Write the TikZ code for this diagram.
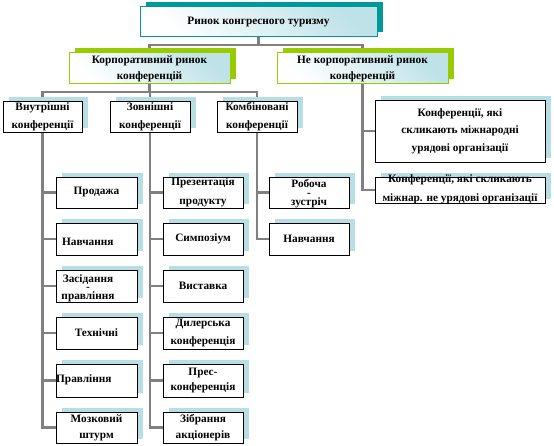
\documentclass[tikz,border=0pt]{standalone}
\usepackage{fontspec}
\setmainfont{Liberation Serif}
\usetikzlibrary{shadows,backgrounds}
\definecolor{tealc}{RGB}{0,153,153}
\definecolor{grnc}{RGB}{153,204,0}
\definecolor{sbluec}{RGB}{183,222,228}
\definecolor{gfillc}{RGB}{190,226,232}
\definecolor{connc}{RGB}{128,128,128}
\begin{document}
\begin{tikzpicture}[x=1pt,y=-1pt,
  txt/.style={inner sep=0pt, align=center, font=\bfseries\fontsize{11.3}{18}\selectfont},
  topbox/.style={txt, draw=tealc, line width=1pt, top color=gfillc, bottom color=white, shading angle=-45,
     general shadow={shadow xshift=5.5pt, shadow yshift=5pt, fill=tealc}},
  midbox/.style={txt, font=\bfseries\fontsize{11.3}{16}\selectfont, draw=grnc, line width=1pt, top color=gfillc, bottom color=white, shading angle=-45,
     general shadow={shadow xshift=5.5pt, shadow yshift=5pt, fill=grnc}},
  leafbox/.style={txt, draw=black, line width=0.8pt, fill=white,
     general shadow={shadow xshift=5.5pt, shadow yshift=4pt, fill=sbluec}},
  dashtxt/.style={txt, font=\bfseries\fontsize{11.3}{8.7}\selectfont},
  conn/.style={draw=connc, line width=2.8pt}
]
\useasboundingbox (0,0) rectangle (554,446);

% level 1
\node[topbox, minimum width=237pt, minimum height=30pt] (top) at (258.5,22) {Ринок конгресного туризму};
% level 2
\node[midbox, minimum width=161pt, minimum height=31pt] (l2a) at (149.5,68.5) {Корпоративний ринок\\конференцій};
\node[midbox, minimum width=171pt, minimum height=31pt] (l2b) at (362.5,68.5) {Не корпоративний ринок\\конференцій};
% level 3
\node[leafbox, minimum width=79pt, minimum height=31pt] (l3a) at (42.5,116.5) {Внутрішні\\конференції};
\node[leafbox, minimum width=80pt, minimum height=31pt] (l3b) at (150,116.5) {Зовнішні\\конференції};
\node[leafbox, minimum width=80pt, minimum height=31pt] (l3c) at (257,116.5) {Комбіновані\\конференції};
% right side
\node[leafbox, font=\bfseries\fontsize{11.3}{17.5}\selectfont, minimum width=170pt, minimum height=62pt] (ra) at (460,131) {Конференції, які\\скликають міжнародні\\урядові організації};
\node[leafbox, font=\bfseries\fontsize{11.3}{19}\selectfont, minimum width=170pt, minimum height=26pt] (rb) at (460,190) {};
\node[txt, font=\bfseries\fontsize{11.3}{19}\selectfont] (rbt) at (460,189) {Конференції, які скликають\\міжнар. не урядові організації};

% column 1
\node[leafbox, minimum width=81pt, minimum height=31pt] (a1) at (96.5,192.5) {Продажа};
\node[leafbox, minimum width=81pt, minimum height=32pt] (a2) at (96.5,239) {};
\node[txt, anchor=west] (a2t) at (62,242) {Навчання};
\node[leafbox, minimum width=81pt, minimum height=32pt] (a3) at (96.5,286) {};
\node[dashtxt] (a3t) at (88,288) {Засідання\\-\\правління};
\node[leafbox, minimum width=81pt, minimum height=32pt] (a4) at (96.5,333) {Технічні};
\node[leafbox, minimum width=81pt, minimum height=33pt] (a5) at (96.5,380.5) {};
\node[txt, anchor=west] (a5t) at (56,380) {Правління};
\node[leafbox, font=\bfseries\fontsize{11.3}{16}\selectfont, minimum width=81pt, minimum height=31pt] (a6) at (96.5,427.5) {Мозковий\\штурм};

% column 2
\node[leafbox, font=\bfseries\fontsize{11.3}{19}\selectfont, minimum width=80pt, minimum height=31pt] (b1) at (203,192.5) {Презентація\\продукту};
\node[leafbox, minimum width=80pt, minimum height=32pt] (b2) at (203,239) {Симпозіум};
\node[leafbox, minimum width=80pt, minimum height=32pt] (b3) at (203,286) {Виставка};
\node[leafbox, minimum width=80pt, minimum height=32pt] (b4) at (203,333) {Дилерська\\конференція};
\node[leafbox, font=\bfseries\fontsize{11.3}{15}\selectfont, minimum width=80pt, minimum height=33pt] (b5) at (203,380.5) {Прес-\\конференція};
\node[leafbox, font=\bfseries\fontsize{11.3}{16}\selectfont, minimum width=80pt, minimum height=31pt] (b6) at (203,427.5) {Зібрання\\акціонерів};

% column 3
\node[leafbox, minimum width=80pt, minimum height=31pt] (c1) at (309,192.5) {};
\node[dashtxt] (c1t) at (309,193.5) {Робоча\\-\\зустріч};
\node[leafbox, minimum width=80pt, minimum height=32pt] (c2) at (309,239) {Навчання};

\begin{pgfonlayer}{background}
  \coordinate (j1) at (258.5,45);
  \coordinate (j2) at (149.5,92);
  \draw[conn] (top.south) -- (j1);
  \draw[conn] (j1) -| (l2a.north);
  \draw[conn] (j1) -| (l2b.north);
  \draw[conn] (l2a.south) -- (j2);
  \draw[conn] (j2) -| (l3a.north);
  \draw[conn] (j2) -| (l3b.north);
  \draw[conn] (j2) -| (l3c.north);
  \foreach \n in {a1,a2,a3,a4,a5,a6} \draw[conn] (l3a.south) |- (\n.west);
  \foreach \n in {b1,b2,b3,b4,b5,b6} \draw[conn] (l3b.south) |- (\n.west);
  \foreach \n in {c1,c2} \draw[conn] (l3c.south) |- (\n.west);
  \foreach \n in {ra,rb} \draw[conn] (l2b.south) |- (\n.west);
\end{pgfonlayer}
\end{tikzpicture}
\end{document}
